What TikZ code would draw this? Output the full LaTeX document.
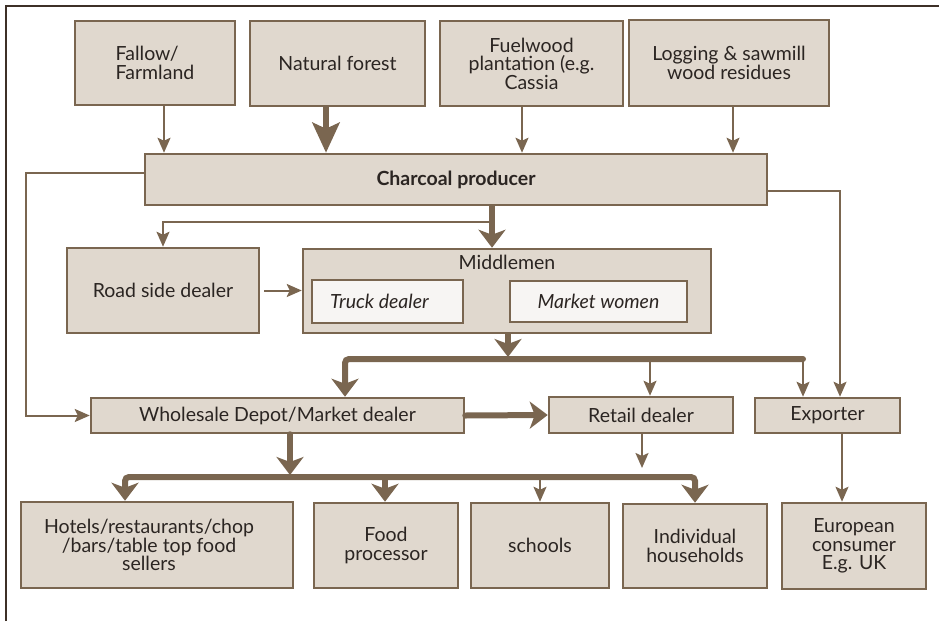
\documentclass[tikz,border=0pt]{standalone}
\usepackage{fontspec}
\setmainfont{Lato}
\usetikzlibrary{arrows.meta}
\definecolor{boxfill}{HTML}{E0D8CE}
\definecolor{brownline}{HTML}{7A6650}
\definecolor{innerfill}{HTML}{F7F5F3}
\definecolor{txt}{HTML}{2B2522}
\definecolor{framecol}{HTML}{3D3027}
\tikzset{
  box/.style={draw=brownline, fill=boxfill, line width=2.5pt, inner sep=2pt,
    align=center, text=txt, font=\fontsize{19.5}{18.5}\selectfont},
  innerbox/.style={draw=brownline, fill=innerfill, line width=2.5pt, inner sep=2pt,
    text=txt, font=\fontsize{19.5}{18.5}\selectfont\itshape},
  thinarrow/.style={draw=brownline, line width=2pt,
    -{Stealth[length=15pt,width=13pt,inset=3pt]}},
  thickarrow/.style={draw=brownline, line width=6pt,
    -{Stealth[length=18pt,width=27pt,inset=5pt]}},
  thickline/.style={draw=brownline, line width=6pt},
}
\begin{document}
\begin{tikzpicture}[x=1pt,y=-1pt]
\useasboundingbox (0,0) rectangle (939,621);
% frame
\draw[framecol, line width=1.2pt] (6,621) -- (6,6) -- (939,6);

% top row
\node[box, minimum width=160pt, minimum height=84pt, align=left] (fallow) at (155,63) {Fallow/\\Farmland};
\node[box, minimum width=175pt, minimum height=85pt] (forest) at (337.5,63.5) {Natural forest};
\node[box, minimum width=183pt, minimum height=85pt] (fuelwood) at (531.5,63.5) {Fuelwood\\plantation (e.g.\\Cassia};
\node[box, minimum width=200pt, minimum height=86pt] (logging) at (729,63) {Logging \& sawmill\\wood residues};

\node[box, minimum width=622pt, minimum height=51pt, font=\fontsize{19.5}{18.5}\selectfont\bfseries] (charcoal) at (456,179.5) {Charcoal producer};

% middle
\node[box, minimum width=192pt, minimum height=85pt] (roadside) at (163,290.5) {Road side dealer};
\node[box, minimum width=408pt, minimum height=84pt] (middlemen) at (507,291) {};
\node[anchor=north, text=txt, font=\fontsize{19.5}{18.5}\selectfont, inner sep=0pt] (midlabel) at ([yshift=-7pt]middlemen.north) {Middlemen};
\node[innerbox, minimum width=151pt, minimum height=43pt] (truck) at (387.5,301.5) {\hspace*{-16pt}Truck dealer};
\node[innerbox, minimum width=177pt, minimum height=41pt] (market) at (598.5,301.5) {Market women};

\node[box, minimum width=373pt, minimum height=35pt] (wholesale) at (277.5,415.5) {Wholesale Depot/Market dealer};
\node[box, minimum width=184pt, minimum height=36pt] (retail) at (641,415) {Retail dealer};
\node[box, minimum width=145pt, minimum height=35pt] (exporter) at (827.5,415.5) {Exporter};

% bottom row
\node[box, minimum width=272pt, minimum height=86pt] (hotels) at (157,545) {\hspace*{-16pt}Hotels/restaurants/chop\\\hspace*{-16pt}/bars/table top food\\\hspace*{-16pt}sellers};
\node[box, minimum width=144pt, minimum height=85pt] (food) at (386,545.5) {Food\\processor};
\node[box, minimum width=138pt, minimum height=85pt] (schools) at (540,545.5) {schools};
\node[box, minimum width=144pt, minimum height=84pt] (households) at (695,546) {Individual\\households};
\node[box, minimum width=144pt, minimum height=86pt] (european) at (854,546) {European\\consumer\\E.g. UK};

% top arrows
\draw[thinarrow] (164,0 |- fallow.south) -- (164,0 |- charcoal.north);
\draw[thickarrow, -{Stealth[length=30pt,width=27pt,inset=6pt]}] (326,0 |- forest.south) -- (326,0 |- charcoal.north);
\draw[thinarrow] (522,0 |- fuelwood.south) -- (522,0 |- charcoal.north);
\draw[thinarrow] (733,0 |- logging.south) -- (733,0 |- charcoal.north);

% charcoal producer outputs
\coordinate (split1) at (492,222);
\coordinate (leftc) at (26,415.5);
\draw[thinarrow] (split1) -| (roadside.north);
\draw[thickarrow] (492,0 |- charcoal.south) -- (492,0 |- middlemen.north);
\draw[thinarrow] ([yshift=7pt]charcoal.west) -| (leftc) -- (wholesale.west);
\draw[thinarrow] ([yshift=-11pt]charcoal.east) -| (840,0 |- exporter.north);

% road side -> middlemen
\draw[thinarrow, shorten <=4pt] (roadside.east) -- (roadside.east -| middlemen.west);

% middlemen distribution
\coordinate (barL) at (345,359);
\coordinate (barR) at (803,359);
\coordinate (barM) at (508,357);
\draw[thickarrow] (508,0 |- middlemen.south) -- (barM);
\draw[thickarrow, rounded corners=4pt, line cap=round] (barR) -- (barL) -- (345,0 |- wholesale.north);
\draw[thinarrow] (650,359) -- (650,0 |- retail.north);
\draw[thinarrow] (barR) -- (803,0 |- exporter.north);

% wholesale -> retail
\draw[thickarrow, line cap=round] (wholesale.east) -- (retail.west);

% wholesale distribution
\coordinate (bbM) at (290,475);
\coordinate (bbL) at (125,477);
\coordinate (bbR) at (695,477);
\draw[thickarrow, line cap=round] (290,0 |- wholesale.south) -- (bbM);
\draw[thickline, rounded corners=4pt, {Stealth[length=18pt,width=27pt,inset=5pt]}-{Stealth[length=18pt,width=27pt,inset=5pt]}]
  (125,0 |- hotels.north) -- (bbL) -- (bbR) -- (695,0 |- households.north);
\draw[thickarrow] (385,477) -- (385,0 |- food.north);
\draw[thinarrow] (540,477) -- (540,0 |- schools.north);
\draw[thinarrow] (642,0 |- retail.south) -- (642,468);
\draw[thinarrow] (842,0 |- exporter.south) -- (842,0 |- european.north);
\end{tikzpicture}
\end{document}
